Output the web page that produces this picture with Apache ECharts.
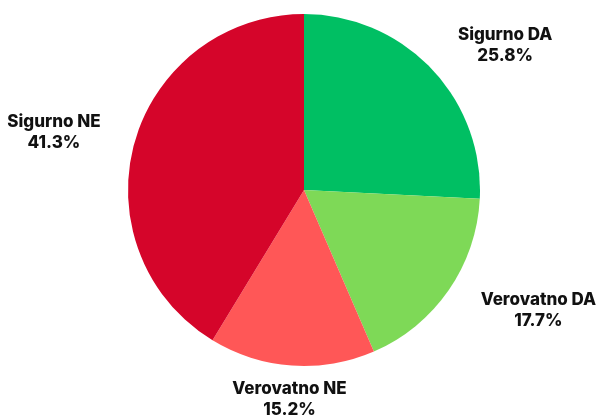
<!DOCTYPE html>
<html>
<head>
<meta charset="utf-8">
<style>
  html, body { margin: 0; padding: 0; background: #fff; }
  #chart { width: 598px; height: 419px; }
</style>
<script src="https://cdn.jsdelivr.net/npm/echarts@6/dist/echarts.min.js"></script>
</head>
<body>
<div id="chart"></div>
<script>
// slices, clockwise from 12 o'clock
var categories = ["Sigurno DA", "Verovatno DA", "Verovatno NE", "Sigurno NE"];
var shares = [25.8, 17.7, 15.2, 41.3];
var colors = ["#00BF63", "#7ED957", "#FF5757", "#D5052A"];

// label guide (hidden) lengths: radial part, horizontal part
var guideLen = [34, 35, 34, 39];
var guideLen2 = [49, 61, 0, 43];

var chart = echarts.init(document.getElementById("chart"));

var seriesData = categories.map(function (name, i) {
  return {
    name: name,
    value: shares[i],
    itemStyle: { color: colors[i] },
    labelLine: { length: guideLen[i], length2: guideLen2[i] }
  };
});

chart.setOption({
  animation: false,
  backgroundColor: "#ffffff",
  series: [
    {
      type: "pie",
      center: [304, 190],
      radius: 176,
      startAngle: 90,
      clockwise: true,
      avoidLabelOverlap: false,
      itemStyle: { borderWidth: 0 },
      label: {
        show: true,
        position: "outside",
        color: "#111111",
        fontFamily: "Inter",
        fontWeight: 800,
        fontSize: 17,
        lineHeight: 21,
        formatter: function (p) {
          return p.name + "\n" + p.value.toFixed(1) + "%";
        }
      },
      labelLine: {
        show: true,
        lineStyle: { opacity: 0, width: 0 }
      },
      // center each label on the end of its guide line
      labelLayout: function (p) {
        var r = p.labelRect;
        var x = p.align === "left" ? r.x - 5 : r.x + r.width + 5;
        return {
          x: x,
          y: r.y + r.height / 2,
          align: "center",
          verticalAlign: "middle"
        };
      },
      data: seriesData
    }
  ]
});
</script>
</body>
</html>
